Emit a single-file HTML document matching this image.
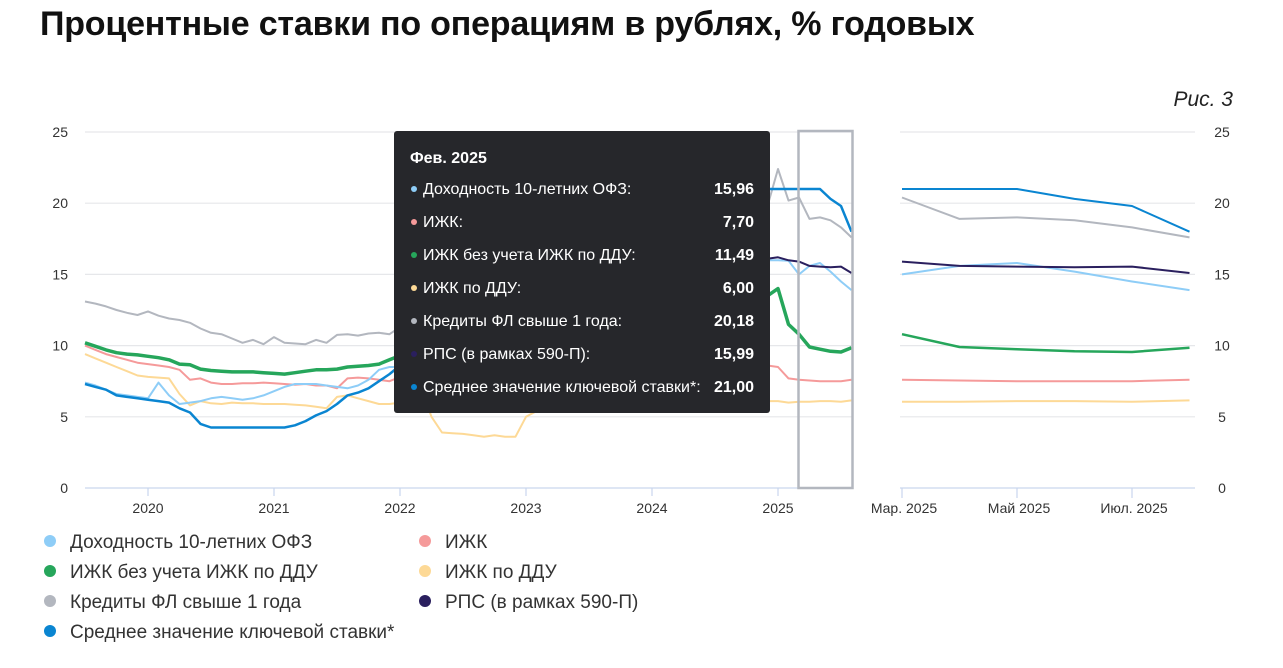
<!DOCTYPE html>
<html><head><meta charset="utf-8"><style>
body{margin:0;width:1283px;height:668px;background:#fff;font-family:"Liberation Sans",sans-serif;overflow:hidden;position:relative}
#title{position:absolute;left:40px;top:5px;font-size:34px;font-weight:bold;color:#111;letter-spacing:-0.2px}
#fig{position:absolute;right:50px;top:88px;font-size:21px;font-style:italic;color:#222}
</style></head><body>
<div id="title">Процентные ставки по операциям в рублях, % годовых</div>
<div id="fig">Рис. 3</div>
<svg id="c" width="1283" height="668" style="position:absolute;left:0;top:0"></svg>
<script>
const yTicks=[0,5,10,15,20,25];
const yearLabels=["2020","2021","2022","2023","2024","2025"];
const rightLabels=["Мар. 2025","Май 2025","Июл. 2025"];
const seriesNames=["Доходность 10-летних ОФЗ","ИЖК","ИЖК без учета ИЖК по ДДУ","ИЖК по ДДУ","Кредиты ФЛ свыше 1 года","РПС (в рамках 590-П)","Среднее значение ключевой ставки*"];
const colors=["#8ecdf7","#f59a9a","#26a65b","#fdd996","#b3b7bf","#2a1f5e","#0a85d1"];
const ofz=[7.4,7.2,6.9,6.6,6.5,6.4, 6.3,7.4,6.5,5.9,6.0,6.1,6.3,6.4,6.3,6.2,6.3,6.5, 6.8,7.1,7.3,7.3,7.3,7.2,7.1,7.0,7.2,7.6,8.3,8.5, 8.5,10,12,10,9.5,9,9,8.8,9.5,10.2,10.5,10.3, 10.3,10.6,11,11,11,11,11.5,12,12,12.5,12,12, 12,12.5,13,13,14,15,15.5,15.5,16.5,17.5,16.5,16, 16,15.96,15.0,15.6,15.8,15.2,14.5,13.9];
const izk=[10.0,9.7,9.4,9.2,9.0,8.8, 8.7,8.6,8.5,8.3,7.6,7.7,7.4,7.3,7.3,7.35,7.35,7.4, 7.35,7.3,7.25,7.3,7.2,7.2,7.0,7.7,7.75,7.7,7.6,7.5, 7.8,8,9,9.5,8.5,8,7.8,7.7,7.6,7.5,7.5,7.5, 7.6,7.7,7.8,7.9,8,8.1,8.2,8.3,8.4,8.5,8.5,8.5, 8.5,8.5,8.5,8.5,8.5,8.5,8.5,8.5,8.5,8.5,8.6,8.6, 8.5,7.7,7.6,7.55,7.5,7.5,7.5,7.6];
const izkNoDdu=[10.2,9.95,9.7,9.5,9.4,9.35, 9.25,9.15,9.0,8.7,8.65,8.35,8.25,8.2,8.15,8.15,8.15,8.1, 8.05,8.0,8.1,8.2,8.3,8.3,8.35,8.5,8.55,8.6,8.7,9.0, 9.3,9.8,11,11,10,9.5,9.5,9.3,9.2,9.2,9.3,9.4, 9.5,9.6,9.7,9.8,9.9,10,10.2,10.5,11,11.5,12,12, 12,12,12,12.2,12.5,13,13.2,13.3,13.5,13.8,14,13.5, 14.0,11.49,10.8,9.9,9.75,9.6,9.55,9.85];
const ddu=[9.4,9.1,8.8,8.5,8.2,7.9, 7.8,7.75,7.7,6.6,5.8,6.1,5.95,5.9,6.0,5.95,5.95,5.9, 5.9,5.9,5.85,5.8,5.7,5.6,6.4,6.5,6.3,6.1,5.9,5.9, 6,6.2,7,5,3.9,3.85,3.8,3.7,3.6,3.7,3.6,3.6, 5.0,5.4,5.6,5.8,5.9,6,6,6,6,6,6,6, 6,6,6,6,6,6,6.1,6.2,6.2,6.2,6.2,6.1, 6.1,6.0,6.05,6.05,6.1,6.1,6.05,6.15];
const credits=[13.1,12.95,12.75,12.5,12.3,12.15, 12.4,12.1,11.9,11.8,11.6,11.2,10.9,10.8,10.5,10.2,10.4,10.1, 10.6,10.2,10.15,10.1,10.4,10.2,10.75,10.8,10.7,10.85,10.9,10.8, 11.3,12.5,17,15,14,13.5,13.5,13.5,13.8,14,14.2,14.3, 14.3,14.5,14.8,15,15.2,15.5,16,16.5,17.5,18.5,19,19, 19,19,19.5,19.5,19.8,20,20.5,21,21.5,21,21,19.8, 22.4,20.18,20.4,18.9,19.0,18.8,18.3,17.6];
const rps=[null,null,null,null,null,null, null,null,null,null,null,null,null,null,null,null,null,null, null,null,null,null,null,null,null,null,null,null,null,null, null,null,null,null,null,null,null,null,null,null,null,null, null,null,null,null,null,null,12,13,13.5,14,14.5,14.8, 15,15,15,15.2,15.3,15.5,15.6,15.8,16,16,16.1,16.1, 16.2,15.99,15.9,15.6,15.55,15.5,15.55,15.1];
const keyRate=[7.3,7.1,6.9,6.5,6.4,6.3, 6.2,6.1,6.0,5.6,5.3,4.5,4.25,4.25,4.25,4.25,4.25,4.25, 4.25,4.25,4.4,4.7,5.1,5.4,5.9,6.5,6.7,7.0,7.5,8.0, 8.6,9.5,20,17,14,11,9,8,8,7.6,7.5,7.5, 7.5,7.5,7.5,7.5,7.5,7.5,7.8,9.5,12.5,13.5,15,16, 16,16,16,16,16,16,16.2,18,18.5,19.2,21,21, 21,21,21,21,21,20.3,19.8,18.0];
const tooltipVals=["15,96","7,70","11,49","6,00","20,18","15,99","21,00"];
const series=[ofz,izk,izkNoDdu,ddu,credits,rps,keyRate];
const widths=[2,2,3.5,2,2,2,2.5];
const drawOrder=[3,1,2,0,4,5,6];

const NS="http://www.w3.org/2000/svg";
const svg=document.getElementById('c');
function el(t,a,p){const e=document.createElementNS(NS,t);for(const k in a)e.setAttribute(k,a[k]);(p||svg).appendChild(e);return e;}
const y=v=>488-v*14.24;
const xm=i=>85+i*10.5;
const xr=i=>902+(i-68)*57.5;

yTicks.forEach(t=>{
  const g1=el('line',{x1:85,x2:852,y1:y(t),y2:y(t),stroke:t?'#e6e7ea':'#c9d6ee','stroke-width':1.2});
  
  const g2=el('line',{x1:900,x2:1195,y1:y(t),y2:y(t),stroke:t?'#e6e7ea':'#c9d6ee','stroke-width':1.2});
  
  const l=el('text',{x:68,y:y(t)+5,'text-anchor':'end','font-size':14,fill:'#333'});l.textContent=t;
  
  const r=el('text',{x:1222,y:y(t)+5,'text-anchor':'middle','font-size':14,fill:'#333'});r.textContent=t;
  
});
yearLabels.forEach((lab,k)=>{
  const xx=xm(6+12*k);
  const tk=el('line',{x1:xx,x2:xx,y1:488,y2:496,stroke:'#c9d6ee','stroke-width':1.2});
  
  const t=el('text',{x:xx,y:513,'text-anchor':'middle','font-size':14,fill:'#333'});t.textContent=lab;
  
});
rightLabels.forEach((lab,k)=>{
  const xx=xr(68+2*k);
  const tk=el('line',{x1:xx,x2:xx,y1:488,y2:498,stroke:'#c9d6ee','stroke-width':1.2});
  
  const t=el('text',{x:xx+2,y:513,'text-anchor':'middle','font-size':14,fill:'#333'});t.textContent=lab;
  
});
function path(arr,fx,from,to){let d='',pen=false;for(let i=from;i<=to;i++){const v=arr[i];if(v==null){pen=false;continue;}d+=(pen?'L':'M')+fx(i).toFixed(1)+','+y(v).toFixed(1);pen=true;}return d;}
drawOrder.forEach(s=>{
  const p=el('path',{d:path(series[s],xm,0,73),fill:'none',stroke:colors[s],'stroke-width':widths[s],'stroke-linejoin':'round'});
  
  const q=el('path',{d:path(series[s],xr,68,73),fill:'none',stroke:colors[s],'stroke-width':widths[s]==3.5?2.5:2,'stroke-linejoin':'round'});
  
});
const sel=el('rect',{x:xm(68)-0.5,y:131,width:xm(73)-xm(68)+1.5,height:357,fill:'none',stroke:'#b3b7bf','stroke-width':2.5});


const tg=el('g',{});

el('rect',{x:394,y:131,width:376,height:282,rx:3,fill:'#26272b'},tg);
const tt=el('text',{x:410,y:163,'font-size':16,'font-weight':'bold',fill:'#fff'},tg);tt.textContent='Фев. 2025';
seriesNames.forEach((n,k)=>{
  const yy=194+k*33;
  el('circle',{cx:414,cy:yy-5,r:3,fill:colors[k]},tg);
  const a=el('text',{x:423,y:yy,'font-size':16,fill:'#fff'},tg);a.textContent=n+':';
  
  const b=el('text',{x:754,y:yy,'font-size':16,'font-weight':'bold',fill:'#fff','text-anchor':'end'},tg);b.textContent=tooltipVals[k];
  
});

const legOrder=[[0,1],[2,3],[4,5],[6]];
legOrder.forEach((row,r)=>row.forEach((s,c)=>{
  const lx=50+c*375, ly=541+r*30;
  const g=el('g',{});
  
  el('circle',{cx:lx,cy:ly,r:6,fill:colors[s]},g);
  const t=el('text',{x:lx+20,y:ly+7,'font-size':19,fill:'#333'},g);t.textContent=seriesNames[s];
}));
</script>
</body></html>
